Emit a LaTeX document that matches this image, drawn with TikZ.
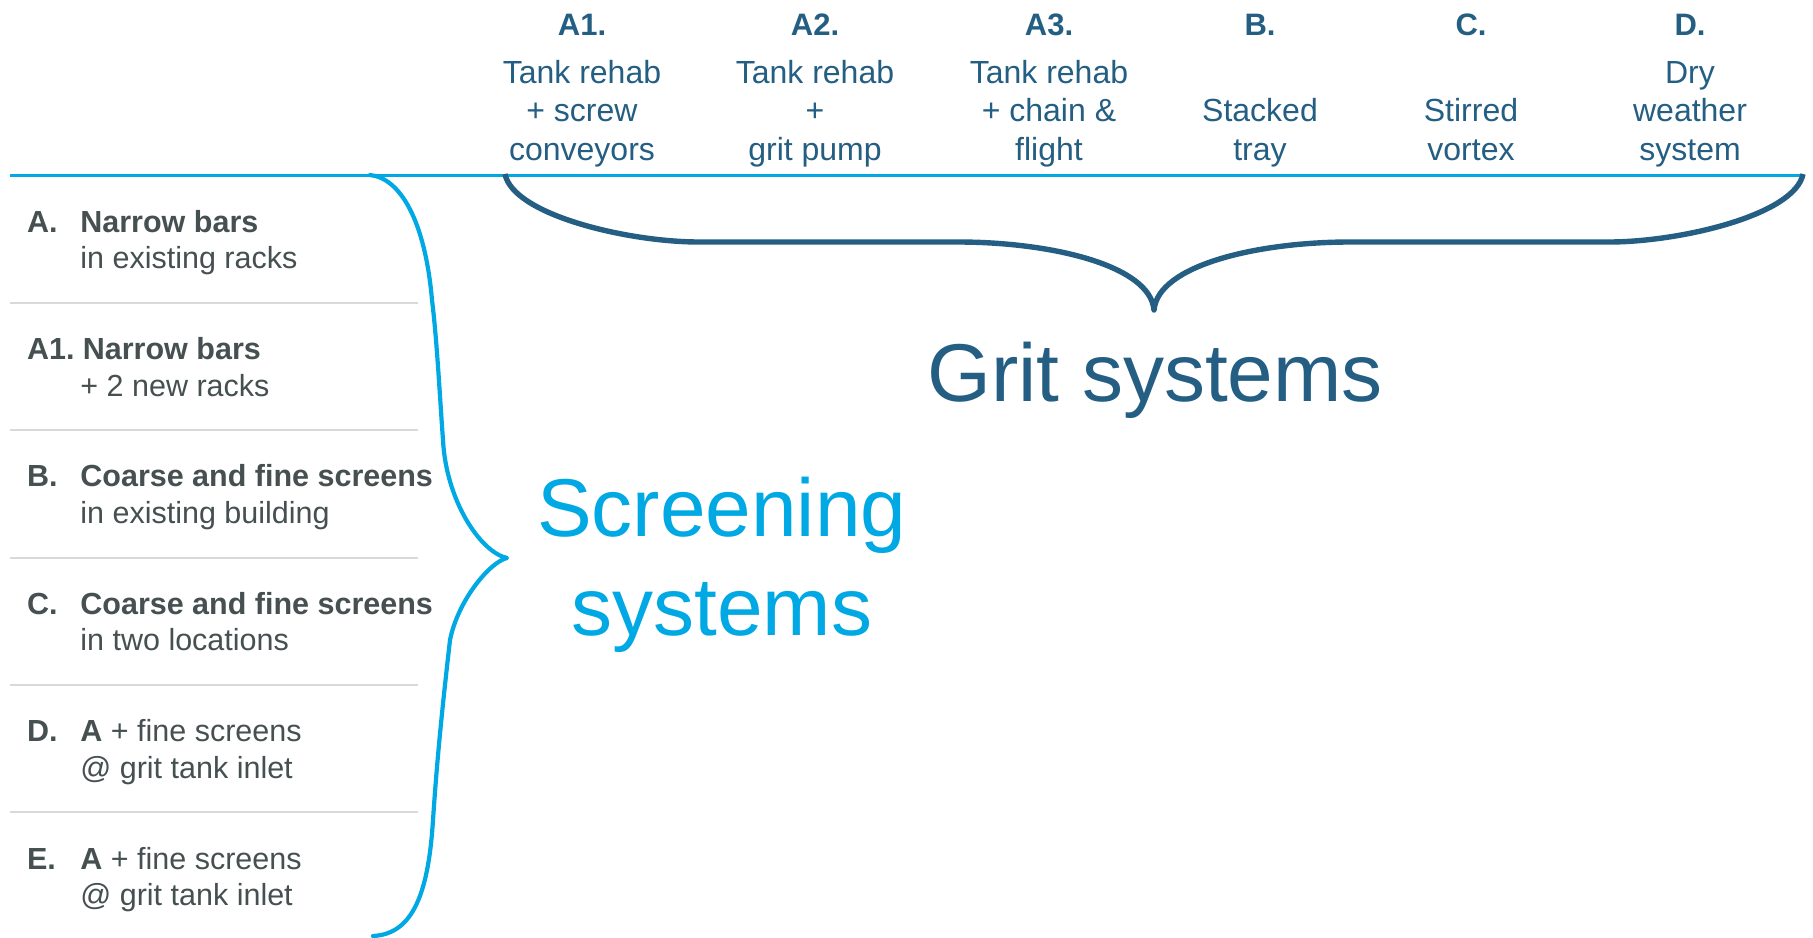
\documentclass[tikz,border=0pt]{standalone}
\usepackage{fontspec}
\setmainfont{Liberation Sans}
\definecolor{gritblue}{HTML}{245E82}
\definecolor{screenblue}{HTML}{00A9E3}
\definecolor{itemgray}{HTML}{465050}
\definecolor{rulegray}{HTML}{D9D9D9}

% multi-line cells whose baseline is the baseline of the first line
\newcommand\stackc[1]{\begin{tabular}[t]{@{}c@{}}#1\end{tabular}}
\newcommand\stackl[1]{\begin{tabular}[t]{@{}l@{}}#1\end{tabular}}

\begin{document}
\begin{tikzpicture}[x=0.5pt,y=-0.5pt,
  colhead/.style={anchor=base,inner sep=0,text=gritblue,
    font=\fontsize{15.5}{19.4}\selectfont\bfseries},
  coltext/.style={anchor=base,inner sep=0,text=gritblue,
    font=\fontsize{16}{19.4}\selectfont},
  itemkey/.style={anchor=base west,inner sep=0,text=itemgray,
    font=\fontsize{15.25}{18.3}\selectfont\bfseries},
  itemtext/.style={anchor=base west,inner sep=0,text=itemgray,
    font=\fontsize{15.25}{18.3}\selectfont},
  bigtitle/.style={anchor=base,inner sep=0,font=\fontsize{41}{49.2}\selectfont},
  headrule/.style={draw=screenblue,line width=1.5pt},
  rowrule/.style={draw=rulegray,line width=1pt},
  screenbrace/.style={draw=screenblue,line width=2.1pt,line cap=round,line join=round},
  gritbrace/.style={draw=gritblue,line width=2.7pt,line join=round},
]
\useasboundingbox (0,0) rectangle (1813,937);
\fill[white] (0,0) rectangle (1813,937);

% ---- column headers: grit options
\node[colhead] (hA1) at (582,35) {A1.};
\node[colhead] (hA2) at (815,35) {A2.};
\node[colhead] (hA3) at (1049,35) {A3.};
\node[colhead] (hB)  at (1260,35) {B.};
\node[colhead] (hC)  at (1471,35) {C.};
\node[colhead] (hD)  at (1690,35) {D.};

\node[coltext] (tA1) at (582,83) {\stackc{Tank rehab\\+ screw\\conveyors}};
\node[coltext] (tA2) at (815,83) {\stackc{Tank rehab\\+\\grit pump}};
\node[coltext] (tA3) at (1049,83) {\stackc{Tank rehab\\+ chain \&\\flight}};
\node[coltext] (tB)  at (1260,121.8) {\stackc{Stacked\\tray}};
\node[coltext] (tC)  at (1471,121.8) {\stackc{Stirred\\vortex}};
\node[coltext] (tD)  at (1690,83) {\stackc{Dry\\weather\\system}};

% ---- header rule
\coordinate (ruleL) at (10,175);
\coordinate (ruleR) at (1804,175);
\draw[headrule] (ruleL) -- (ruleR);

% ---- row separators
\foreach \yy/\nm in {302.7/s1,430.1/s2,557.5/s3,684.9/s4,812.3/s5}{
  \coordinate (\nm L) at (10,\yy);
  \coordinate (\nm R) at (418,\yy);
  \draw[rowrule] (\nm L) -- (\nm R);
}

% ---- screening options
\node[itemkey]  (kA)  at (26.7,232)   {A.};
\node[itemtext] (iA)  at (80,232)     {\stackl{\textbf{Narrow bars}\\in existing racks}};
\node[itemkey]  (kA1) at (26.7,359.4) {A1.};
\node[itemtext] (iA1) at (82.5,359.4) {\stackl{\textbf{Narrow bars}\\\hspace*{-1.25pt}+ 2 new racks}};
\node[itemkey]  (kB)  at (26.7,486.8) {B.};
\node[itemtext] (iB)  at (80,486.8)   {\stackl{\textbf{Coarse and fine screens}\\in existing building}};
\node[itemkey]  (kC)  at (26.7,614.2) {C.};
\node[itemtext] (iC)  at (80,614.2)   {\stackl{\textbf{Coarse and fine screens}\\in two locations}};
\node[itemkey]  (kD)  at (26.7,741.6) {D.};
\node[itemtext] (iD)  at (80,741.6)   {\stackl{\textbf{A} + fine screens\\@ grit tank inlet}};
\node[itemkey]  (kE)  at (26.7,869)   {E.};
\node[itemtext] (iE)  at (80,869)     {\stackl{\textbf{A} + fine screens\\@ grit tank inlet}};

% ---- brace grouping the screening options
\coordinate (sbTop) at (370,175);
\coordinate (sbTip) at (507,558);
\coordinate (sbBot) at (373,936);
\draw[screenbrace] (sbTop)
  .. controls (400,178) and (425,220) .. (432,300)
  .. controls (437,340) and (440,400) .. (443,440)
  .. controls (446,500) and (480,552) .. (sbTip)
  .. controls (490,562) and (458,600) .. (450,640)
  .. controls (442,710) and (437,760) .. (433,820)
  .. controls (428,900) and (410,934) .. (sbBot);

% ---- brace grouping the grit options
\coordinate (gbL) at (505,174);
\coordinate (gbTip) at (1154,310);
\coordinate (gbR) at (1803,174);
\draw[gritbrace] (gbL)
  .. controls (513,215) and (628,242) .. (699,242)
  -- (958,242)
  .. controls (1050,242) and (1150,265) .. (gbTip)
  .. controls (1158,265) and (1258,242) .. (1350,242)
  -- (1609,242)
  .. controls (1680,242) and (1795,215) .. (gbR);

% ---- group titles
\node[bigtitle,text=gritblue] (grit) at (1155,401.7) {Grit systems};
\node[bigtitle,text=screenblue] (screen) at (721.7,536.7) {\stackc{Screening\\systems}};
\end{tikzpicture}
\end{document}
